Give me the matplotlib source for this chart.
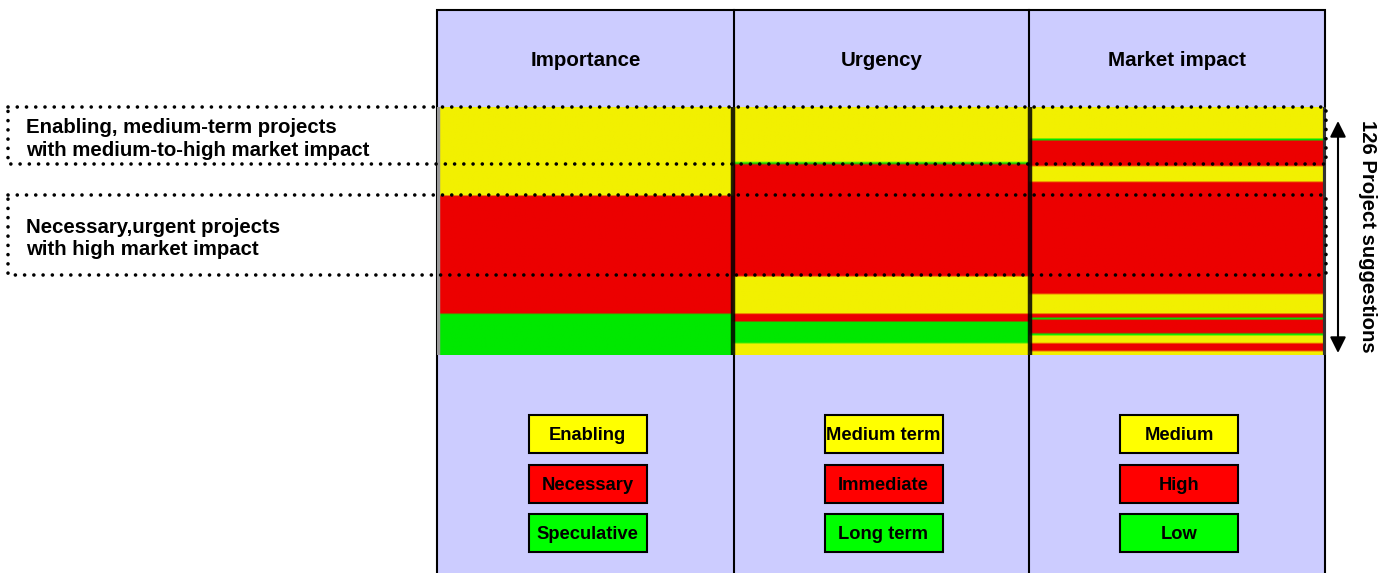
import numpy as np
import matplotlib
matplotlib.use("Agg")
import matplotlib.pyplot as plt
from matplotlib.patches import Rectangle
from matplotlib import transforms

plt.rcParams['font.family'] = ['Liberation Sans', 'DejaVu Sans']

# columns and their legend levels (index 0 = yellow, 1 = red, 2 = green)
columns = ["Importance", "Urgency", "Market impact"]
importance_levels = ["Enabling", "Necessary", "Speculative"]
urgency_levels = ["Medium term", "Immediate", "Long term"]
market_levels = ["Medium", "High", "Low"]

# runs of projects (top to bottom): (level, number of projects)
importance_runs = [("Enabling", 45), ("Necessary", 60), ("Speculative", 21)]
urgency_runs = [("Medium term", 28), ("Long term", 1), ("Immediate", 57),
                ("Medium term", 19), ("Immediate", 4), ("Long term", 11),
                ("Medium term", 6)]
market_runs = [("Medium", 16), ("Low", 1), ("High", 13), ("Medium", 8),
               ("High", 57), ("Medium", 10), ("High", 2), ("Low", 1),
               ("High", 7), ("Low", 1), ("Medium", 4), ("High", 4),
               ("Medium", 2)]

# highlighted groups of projects (row ranges) and their captions
group_rows = [(0, 29), (44.5, 85.5)]
group_labels = ["Enabling, medium-term projects\nwith medium-to-high market impact",
                "Necessary,urgent projects\nwith high market impact"]

n_projects = 126
heat_colors = np.array([[242, 240, 0], [236, 0, 0], [0, 232, 0]]) / 255.0
legend_colors = ["#ffff00", "#ff0000", "#00ff00"]


def expand(runs, levels):
    codes = [levels.index(name) for name, n in runs]
    counts = [n for name, n in runs]
    return np.repeat(codes, counts)


grid = np.column_stack([expand(importance_runs, importance_levels),
                        expand(urgency_runs, urgency_levels),
                        expand(market_runs, market_levels)])
all_levels = [importance_levels, urgency_levels, market_levels]

W, H = 1389, 573
fig = plt.figure(figsize=(W / 100, H / 100), dpi=100)

# background axes in pixel units, used for the layout
bg = fig.add_axes([0, 0, 1, 1])
bg.set_xlim(0, W)
bg.set_ylim(H, 0)
bg.axis("off")

col_edges = [437, 734, 1029, 1325]
panel_top = 10
bg.add_patch(Rectangle((col_edges[0], panel_top), col_edges[-1] - col_edges[0], H,
                       facecolor="#ccccff", edgecolor="black", lw=1.5))
for x in col_edges[1:-1]:
    bg.plot([x, x], [panel_top, H], color="black", lw=1.5)

for i, name in enumerate(columns):
    cx = (col_edges[i] + col_edges[i + 1]) / 2
    bg.text(cx, 61, name, ha="center", va="center", fontsize=14.8, fontweight="bold")
    for j, lev in enumerate(all_levels[i]):
        top = 415 + j * 49.5
        bg.add_patch(Rectangle((cx + 2 - 59, top), 118, 38, facecolor=legend_colors[j],
                               edgecolor="black", lw=1.5))
        bg.text(cx + 2, top + 20.5, lev, ha="center", va="center", fontsize=13.2,
                fontweight="bold")

# heatmap of the projects
hm_top, hm_bot, hm_left, hm_right = 107, 355, 437, 1326
hm = fig.add_axes([hm_left / W, 1 - hm_bot / H, (hm_right - hm_left) / W,
                   (hm_bot - hm_top) / H])
rgb = heat_colors[grid]
rgb = np.repeat(rgb, 100, axis=1)
hm.imshow(rgb, aspect="auto", interpolation="bilinear",
          extent=(0, len(columns), n_projects, 0))
hm.set_xlim(0, len(columns))
hm.set_ylim(n_projects, 0)
hm.axis("off")
for x in range(1, len(columns)):
    hm.axvline(x, color="black", lw=3.2, alpha=0.85)
hm.axvline(0.004, color="#999999", lw=2.5)
hm.axvline(len(columns) - 0.004, color="#333333", lw=3)

# dotted boxes around groups
tr = transforms.blended_transform_factory(bg.transData, hm.transData)
for (r0, r1), label in zip(group_rows, group_labels):
    hm.add_patch(Rectangle((8, r0), 1326 - 8, r1 - r0, transform=tr, fill=False,
                           edgecolor="black", lw=2.6, linestyle=(0, (0.01, 2.55)),
                           capstyle="round", clip_on=False, zorder=5))
    ymid = (r0 + r1) / 2
    ypix = hm_top + ymid * (hm_bot - hm_top) / n_projects
    bg.text(26, ypix + 3.5, label, ha="left", va="center", fontsize=14.7,
            fontweight="bold", linespacing=1.25)

# arrow with number of projects
bg.annotate("", xy=(1338, 121), xytext=(1338, 353),
            arrowprops=dict(arrowstyle="<|-|>", color="black", lw=1.5,
                            mutation_scale=24, shrinkA=0, shrinkB=0))
bg.text(1367, 236, f"{n_projects} Project suggestions", rotation=-90, ha="center",
        va="center", fontsize=14.6, fontweight="bold")

fig.savefig("out.png", dpi=100)
